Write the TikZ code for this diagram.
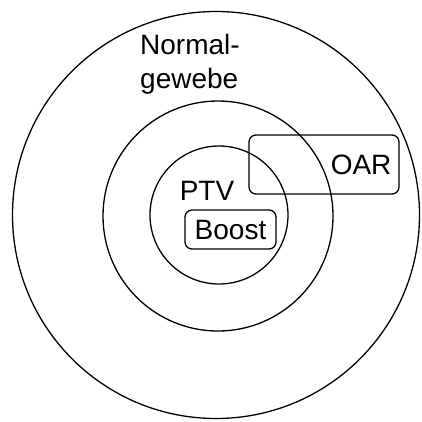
\documentclass[tikz,border=0pt]{standalone}
\usepackage{fontspec}
\setmainfont{Liberation Sans}
\usetikzlibrary{positioning}

\begin{document}
\begin{tikzpicture}[x=1pt,y=-1pt,
    ring/.style={draw,circle,line width=1.3pt,inner sep=0pt},
    organ/.style={draw,rounded corners=7pt,line width=1.3pt,inner sep=0pt},
    lbl/.style={font=\fontsize{28}{34}\selectfont,inner sep=0pt}
  ]
    \useasboundingbox (0,0) rectangle (422,421);
    % zones, outside in
    \node[ring,minimum size=407pt] (normal) at (216,215) {};
    \node[ring,minimum size=230pt] (mid) at (218,216) {};
    \node[ring,minimum size=138pt] (ptv) at (219,215) {};
    % organ at risk
    \node[organ,minimum width=150pt,minimum height=59pt] (oar) at (324,164.5) {};
    \node[lbl,anchor=east] (oartxt) at ([xshift=-8pt]oar.east) {OAR};
    % boost inside the PTV
    \node[lbl,organ,minimum width=91pt,minimum height=39pt] (boost) at (230.5,229.5) {Boost};
    \node[lbl] (ptvtxt) at (207,190.5) {PTV};
    \node[lbl,align=left,anchor=north west] (normtxt) at (140,34) {Normal-\\gewebe};
  \end{tikzpicture}
\end{document}
